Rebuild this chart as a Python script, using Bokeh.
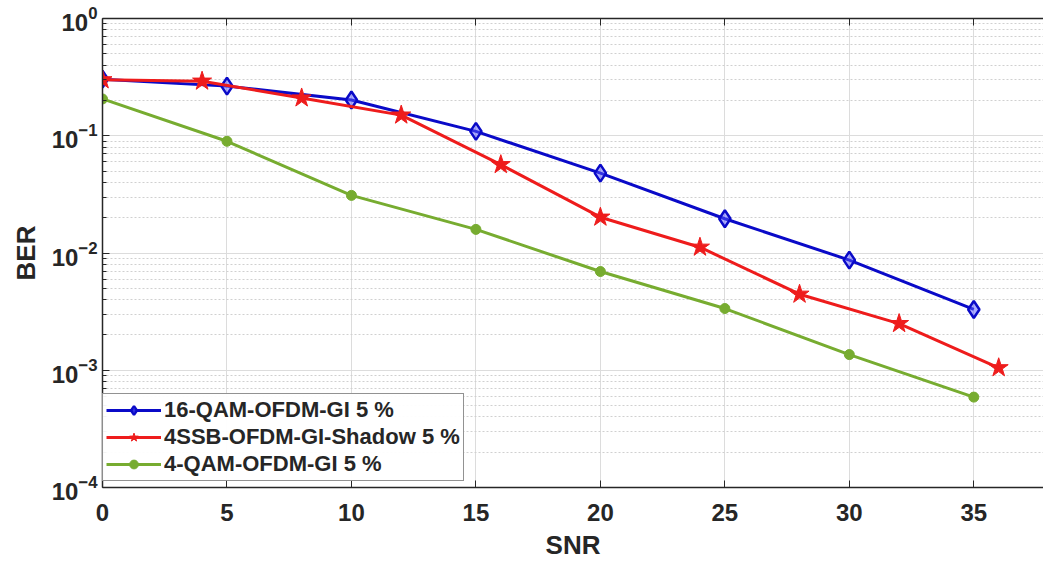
import numpy as np
from bokeh.plotting import figure
from bokeh.models import Range1d, LinearAxis, FixedTicker, Legend, CustomJSTickFormatter
from bokeh.embed import file_html
from bokeh.resources import INLINE

# ---- data ----
snr_qam16 = [0, 5, 10, 15, 20, 25, 30, 35]
ber_qam16 = [0.304, 0.265, 0.202, 0.109, 0.048, 0.0196, 0.0087, 0.0033]

snr_ssb = [0, 4, 8, 12, 16, 20, 24, 28, 32, 36]
ber_ssb = [0.300, 0.292, 0.210, 0.150, 0.0567, 0.0202, 0.0112, 0.00445, 0.0025, 0.00105]

snr_qam4 = [0, 5, 10, 15, 20, 25, 30, 35]
ber_qam4 = [0.206, 0.0897, 0.031, 0.0159, 0.00695, 0.00336, 0.00136, 0.00059]

x_ticks = [0, 5, 10, 15, 20, 25, 30, 35]
y_ticks = [1e-4, 1e-3, 1e-2, 1e-1, 1e0]
y_minor = [m * d for d in [1e-4, 1e-3, 1e-2, 1e-1] for m in range(2, 10)]

names = ["16-QAM-OFDM-GI 5 %", "4SSB-OFDM-GI-Shadow 5 %", "4-QAM-OFDM-GI 5 %"]

BLUE = "#0a0ac8"
RED = "#ee1c1c"
GREEN = "#77ac30"
DARK = "#262626"
FONT = "Liberation Sans"

p = figure(width=1043, height=562, y_axis_type="log", output_backend="svg",
           toolbar_location=None, x_range=Range1d(0, 37.8), y_range=Range1d(1e-4, 1),
           min_border_left=102, min_border_right=0, min_border_top=18, min_border_bottom=75)
p.outline_line_color = None
p.background_fill_color = "white"

yt = FixedTicker(ticks=y_ticks, minor_ticks=y_minor)
p.yaxis.ticker = yt
p.ygrid.ticker = yt
p.xaxis.ticker = FixedTicker(ticks=x_ticks, minor_ticks=[])
p.xgrid.ticker = FixedTicker(ticks=x_ticks, minor_ticks=[])

for ax in [p.xaxis[0], p.yaxis[0]]:
    ax.axis_line_color = DARK
    ax.axis_line_width = 1.5
    ax.major_tick_in = 7
    ax.major_tick_out = 0
    ax.minor_tick_in = 4
    ax.minor_tick_out = 0
    ax.major_tick_line_color = DARK
    ax.minor_tick_line_color = DARK
    ax.major_label_text_font = FONT
    ax.major_label_text_font_style = "bold"
    ax.major_label_text_color = DARK
    ax.major_label_text_font_size = "24px"
    ax.axis_label_text_font = FONT
    ax.axis_label_text_font_style = "bold"
    ax.axis_label_text_color = DARK
    ax.axis_label_text_font_size = "26px"

p.xaxis.axis_label = "SNR"
p.yaxis.axis_label = "BER"
p.xaxis.major_label_standoff = 16
p.xaxis.axis_label_standoff = 6
p.yaxis.major_label_standoff = 5
p.yaxis.axis_label_standoff = 8

p.xgrid.grid_line_color = "#dcdcdc"
p.ygrid.grid_line_color = "#dcdcdc"
p.ygrid.minor_grid_line_color = "#d0d0d0"
p.ygrid.minor_grid_line_dash = "2 2"

# top axis (box edge with inward ticks, no labels)
top = LinearAxis(ticker=FixedTicker(ticks=x_ticks, minor_ticks=[]),
                 formatter=CustomJSTickFormatter(code="return ''"))
top.axis_line_color = DARK
top.axis_line_width = 1.5
top.major_tick_in = 7
top.major_tick_out = 0
top.major_tick_line_color = DARK
top.major_label_standoff = 0
p.add_layout(top, "above")

# series
l1 = p.line(snr_qam16, ber_qam16, line_color=BLUE, line_width=3)
s1 = p.scatter(snr_qam16, ber_qam16, marker="diamond", size=17, line_color=BLUE,
               line_width=2.5, fill_color="#5a5aff", fill_alpha=0.5)
l2 = p.line(snr_ssb, ber_ssb, line_color=RED, line_width=3)
s2 = p.scatter(snr_ssb, ber_ssb, marker="star", size=20, line_color=RED,
               line_width=1, fill_color=RED)
l3 = p.line(snr_qam4, ber_qam4, line_color=GREEN, line_width=3)
s3 = p.scatter(snr_qam4, ber_qam4, marker="circle", size=10, line_color=GREEN,
               fill_color=GREEN)

legend = Legend(items=[(names[0], [l1, s1]), (names[1], [l2, s2]), (names[2], [l3, s3])],
                location=(0, 6))
legend.label_text_font = FONT
legend.label_text_font_style = "bold"
legend.label_text_font_size = "22px"
legend.label_text_color = DARK
legend.border_line_color = DARK
legend.border_line_width = 1.5
legend.glyph_width = 55
legend.glyph_height = 22
legend.spacing = 1
legend.padding = 3
legend.margin = 0
legend.label_standoff = 3
legend.label_height = 22
p.add_layout(legend, "center")

open("out.html", "w").write(file_html(p, INLINE))
